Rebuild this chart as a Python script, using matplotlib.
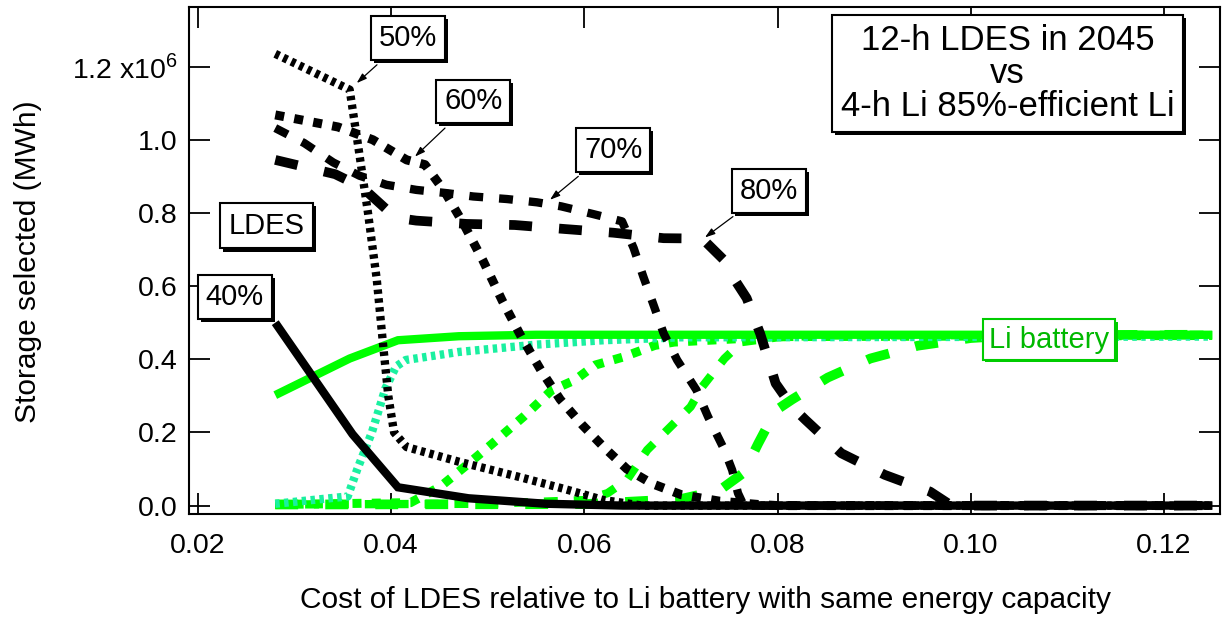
import matplotlib
matplotlib.use("Agg")
import matplotlib.pyplot as plt
import matplotlib.patheffects as pe
from matplotlib.ticker import FixedLocator, FixedFormatter

plt.rcParams["font.family"] = ["Liberation Sans", "DejaVu Sans"]
plt.rcParams["mathtext.fontset"] = "custom"
plt.rcParams["mathtext.rm"] = "Liberation Sans"
plt.rcParams["lines.scale_dashes"] = False

# storage selected, in units of 1e6 MWh, vs relative LDES cost
x40 = [0.028, 0.036, 0.0407, 0.048, 0.056, 0.064, 0.125]
ldes40 = [0.50, 0.195, 0.05, 0.02, 0.005, 0.0, 0.0]
li40_x = [0.028, 0.0357, 0.0407, 0.047, 0.055, 0.065, 0.125]
li40 = [0.302, 0.402, 0.452, 0.463, 0.467, 0.467, 0.467]

x50 = [0.028, 0.0357, 0.0366, 0.0376, 0.0385, 0.0392, 0.0397, 0.0403, 0.0416,
       0.047, 0.053, 0.058, 0.062, 0.066, 0.125]
ldes50 = [1.235, 1.137, 0.98, 0.80, 0.62, 0.43, 0.30, 0.20, 0.16,
          0.12, 0.08, 0.045, 0.015, 0.0, 0.0]
li50_x = [0.028, 0.0355, 0.0365, 0.038, 0.0394, 0.0405, 0.0415, 0.047, 0.055,
          0.062, 0.07, 0.125]
li50 = [0.005, 0.025, 0.10, 0.20, 0.32, 0.38, 0.398, 0.42, 0.44,
        0.452, 0.46, 0.462]

x60 = [0.028, 0.0345, 0.0381, 0.0416, 0.0435, 0.0455, 0.0475, 0.0495, 0.0515,
       0.0535, 0.0555, 0.0575, 0.0598, 0.062, 0.0644, 0.067, 0.07, 0.074,
       0.078, 0.08, 0.125]
ldes60 = [1.068, 1.035, 1.0, 0.945, 0.932, 0.86, 0.77, 0.67, 0.56,
          0.46, 0.37, 0.29, 0.22, 0.16, 0.10, 0.06, 0.03, 0.012,
          0.003, 0.0, 0.0]
li60_x = [0.028, 0.042, 0.0451, 0.0476, 0.0505, 0.0537, 0.0566, 0.059, 0.0611,
          0.064, 0.0673, 0.0693, 0.075, 0.08, 0.125]
li60 = [0.003, 0.008, 0.052, 0.106, 0.17, 0.243, 0.315, 0.343, 0.384,
        0.406, 0.438, 0.447, 0.455, 0.462, 0.465]

x70 = [0.028, 0.031, 0.034, 0.0367, 0.0395, 0.0426, 0.0458, 0.0485, 0.052,
       0.0551, 0.0576, 0.0609, 0.0639, 0.0651, 0.0661, 0.0671, 0.0682, 0.0696,
       0.0716, 0.0728, 0.0745, 0.0753, 0.0759, 0.0765, 0.08, 0.125]
ldes70 = [1.032, 0.991, 0.938, 0.902, 0.877, 0.863, 0.854, 0.845, 0.838,
          0.829, 0.818, 0.797, 0.777, 0.704, 0.626, 0.553, 0.471, 0.398,
          0.316, 0.243, 0.152, 0.097, 0.034, 0.0, 0.0, 0.0]
li70_x = [0.028, 0.05, 0.06, 0.0624, 0.0644, 0.0665, 0.0689, 0.071, 0.0722,
          0.0745, 0.0763, 0.08, 0.085, 0.125]
li70 = [0.003, 0.005, 0.015, 0.034, 0.07, 0.152, 0.215, 0.27, 0.325,
        0.402, 0.447, 0.46, 0.465, 0.467]

x80 = [0.028, 0.0342, 0.037, 0.0395, 0.041, 0.0426, 0.0478, 0.0528, 0.058,
       0.063, 0.0682, 0.0722, 0.0745, 0.0755, 0.0768, 0.0782, 0.0798, 0.0815,
       0.0829, 0.0866, 0.0911, 0.0958, 0.098, 0.125]
ldes80 = [0.945, 0.906, 0.87, 0.81, 0.785, 0.779, 0.770, 0.767, 0.756,
          0.746, 0.731, 0.73, 0.67, 0.62, 0.567, 0.47, 0.334, 0.27,
          0.234, 0.143, 0.084, 0.038, 0.0, 0.0]
li80_x = [0.028, 0.06, 0.07, 0.074, 0.0765, 0.078, 0.0798, 0.0815, 0.0852,
          0.0896, 0.0945, 0.1, 0.105, 0.125]
li80 = [0.003, 0.004, 0.018, 0.042, 0.09, 0.17, 0.26, 0.29, 0.35,
        0.402, 0.437, 0.458, 0.466, 0.467]

x_ticks = [0.02, 0.04, 0.06, 0.08, 0.10, 0.12]
x_ticklabels = ["0.02", "0.04", "0.06", "0.08", "0.10", "0.12"]
y_ticks = [0.0, 0.2, 0.4, 0.6, 0.8, 1.0, 1.2]
y_ticklabels = ["0.0", "0.2", "0.4", "0.6", "0.8", "1.0", r"1.2 x10$^{6}$"]

GREEN = "#00ff00"
AQUA = "#1af0a0"

# line styles: (linewidth, dash pattern in points)
styles = {
    "40": (6.0, None),
    "50": (6.0, (3.2, 3.2)),
    "60": (6.5, (6.5, 7.4)),
    "70": (6.0, (10.0, 11.5)),
    "80": (7.0, (16.5, 19.5)),
}


def draw(ax, x, y, color, key, zorder):
    lw, dashes = styles[key]
    line, = ax.plot(x, y, color=color, lw=lw, zorder=zorder,
                    solid_capstyle="butt", solid_joinstyle="miter")
    if dashes is not None:
        line.set_dashes(dashes)
    return line


fig = plt.figure(figsize=(12.23, 6.2), dpi=100)
ax = fig.add_axes([189 / 1223, 106 / 620, 1031 / 1223, 507 / 620])

# Li battery curves underneath, LDES curves on top
draw(ax, li80_x, li80, GREEN, "80", 2)
draw(ax, li70_x, li70, GREEN, "70", 2)
draw(ax, li60_x, li60, GREEN, "60", 2)
draw(ax, li50_x, li50, AQUA, "50", 2)
draw(ax, li40_x, li40, GREEN, "40", 3)

draw(ax, x80, ldes80, "black", "80", 4)
draw(ax, x70, ldes70, "black", "70", 4)
draw(ax, x60, ldes60, "black", "60", 4)
draw(ax, x50, ldes50, "black", "50", 4)
draw(ax, x40, ldes40, "black", "40", 5)

ax.set_xlim(0.01907, 0.1258)
ax.set_ylim(-0.023, 1.363)

ax.xaxis.set_major_locator(FixedLocator(x_ticks))
ax.xaxis.set_major_formatter(FixedFormatter(x_ticklabels))
ax.yaxis.set_major_locator(FixedLocator(y_ticks))
ax.yaxis.set_major_formatter(FixedFormatter(y_ticklabels))
ax.tick_params(axis="both", which="major", direction="in", length=15, width=1.3,
               labelsize=20.5, top=True, right=True)
ax.tick_params(axis="x", pad=14)
ax.tick_params(axis="y", pad=8)
for sp in ax.spines.values():
    sp.set_linewidth(1.5)

fig.text(705 / 1223, 1 - 600 / 620,
         "Cost of LDES relative to Li battery with same energy capacity",
         fontsize=21.5, ha="center", va="center")
fig.text(28 / 1223, 1 - 262 / 620, "Storage selected (MWh)",
         fontsize=21.5, rotation=90, ha="center", va="center")

shadow = [pe.SimplePatchShadow(offset=(2.2, -2.2), shadow_rgbFace="black", alpha=1.0),
          pe.Normal()]


def label_box(x, y, s, fontsize=21, pad=0.27, color="black", edge="black"):
    t = ax.text(x, y, s, fontsize=fontsize, color=color, ha="center", va="center",
                zorder=10,
                bbox=dict(boxstyle=f"square,pad={pad}", fc="white", ec=edge, lw=1.5))
    t.get_bbox_patch().set_path_effects(shadow)
    return t


def pointer(tail, tip):
    ax.annotate("", xy=tip, xytext=tail, zorder=9,
                arrowprops=dict(arrowstyle="-|>,head_length=0.6,head_width=0.2",
                                color="black", lw=0.9, shrinkA=0, shrinkB=0))


label_box(0.04174, 1.278, "50%")
label_box(0.0485, 1.105, "60%")
label_box(0.063, 0.973, "70%")
label_box(0.0791, 0.861, "80%")
label_box(0.0271, 0.765, "LDES", pad=0.3)
label_box(0.0238, 0.571, "40%")
li_box = ax.text(0.1081, 0.453, "Li battery", fontsize=21, color="#00b800",
                 ha="center", va="center", zorder=10,
                 bbox=dict(boxstyle="square,pad=0.22", fc="white", ec="#00cc00", lw=1.5))
li_box.get_bbox_patch().set_path_effects(
    [pe.SimplePatchShadow(offset=(1.5, -1.5), shadow_rgbFace="#00cc00", alpha=1.0),
     pe.Normal()])

title = ax.text(0.1038, 1.181, "12-h LDES in 2045\nvs\n4-h Li 85%-efficient Li",
                fontsize=25, ha="center", va="center", linespacing=1.0, zorder=10,
                bbox=dict(boxstyle="square,pad=0.25", fc="white", ec="black", lw=1.5))
title.get_bbox_patch().set_path_effects(shadow)

pointer((0.03853, 1.205), (0.03643, 1.155))
pointer((0.04557, 1.032), (0.04246, 0.954))
pointer((0.05937, 0.900), (0.05644, 0.836))
pointer((0.07538, 0.790), (0.07248, 0.733))

fig.savefig("out.png", dpi=100)
